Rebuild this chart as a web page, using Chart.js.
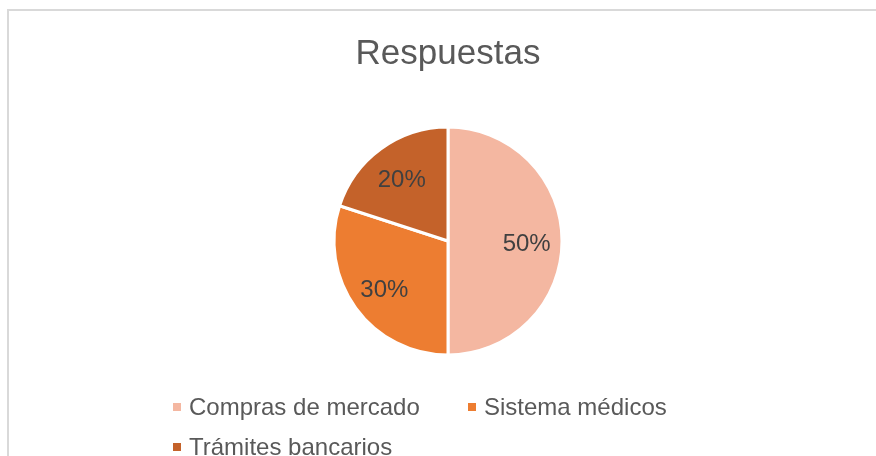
<!DOCTYPE html>
<html lang="es">
<head>
<meta charset="utf-8">
<title>Respuestas</title>
<script src="https://cdn.jsdelivr.net/npm/chart.js@4.4.1/dist/chart.umd.min.js"></script>
<style>
    html, body { margin: 0; padding: 0; background: #fff; overflow: hidden; }
    #wrap { position: relative; width: 876px; height: 456px; overflow: hidden; }
    #frame {
        position: absolute; left: 7px; top: 9px; width: 1000px; height: 600px;
        border-left: 2px solid #d9d9d9; border-top: 2px solid #d9d9d9;
    }
    #pie { position: absolute; left: 0; top: 0; }
    #legend {
        position: absolute; left: 173px; top: 387px;
        display: grid; grid-template-columns: 295px auto;
        font: 24px "Liberation Sans", Arial, sans-serif; color: #595959;
        line-height: 40px;
    }
    .item { display: flex; align-items: center; white-space: nowrap; }
    .box { width: 8px; height: 8px; margin-right: 8px; }
</style>
</head>
<body>
<div id="wrap">
    <div id="frame"></div>
    <canvas id="pie" width="876" height="456"></canvas>
    <div id="legend"></div>
</div>
<script>
"use strict";

// Data
const categories = ['Compras de mercado', 'Sistema médicos', 'Trámites bancarios'];
const shares = [50, 30, 20];
const sliceColors = ['#F4B7A1', '#ED7D31', '#C4622A'];

const FONT = '"Liberation Sans", Arial, sans-serif';

// Percent labels inside each slice (Excel style)
const pctLabels = {
    id: 'pctLabels',
    afterDatasetsDraw(chart) {
        const ctx = chart.ctx;
        const meta = chart.getDatasetMeta(0);
        const total = shares.reduce((a, b) => a + b, 0);
        ctx.save();
        ctx.font = '24px ' + FONT;
        ctx.fillStyle = '#404040';
        ctx.textAlign = 'center';
        ctx.textBaseline = 'middle';
        meta.data.forEach((arc, i) => {
            const p = arc.getProps(['x', 'y', 'startAngle', 'endAngle', 'outerRadius']);
            const mid = (p.startAngle + p.endAngle) / 2;
            const r = p.outerRadius * 0.69;
            const txt = Math.round(shares[i] / total * 100) + '%';
            ctx.fillText(txt, p.x + Math.cos(mid) * r, p.y + Math.sin(mid) * r + 3);
        });
        ctx.restore();
    }
};

const ctx = document.getElementById('pie').getContext('2d');
const chart = new Chart(ctx, {
    type: 'pie',
    data: {
        labels: categories,
        datasets: [{
            data: shares,
            backgroundColor: sliceColors,
            borderColor: '#ffffff',
            borderWidth: 3,
            hoverOffset: 0
        }]
    },
    options: {
        responsive: false,
        animation: false,
        radius: 114,
        layout: { padding: { left: 20, right: 0, top: 0, bottom: 49 } },
        plugins: {
            legend: { display: false },
            tooltip: { enabled: false },
            title: {
                display: true,
                text: 'Respuestas',
                color: '#595959',
                font: { family: FONT, size: 35, weight: 'normal', lineHeight: 1.2 },
                padding: { top: 33, bottom: 0 }
            }
        }
    },
    plugins: [pctLabels]
});

// Legend (left-aligned rows like the original)
const legendEl = document.getElementById('legend');
categories.forEach((name, i) => {
    const item = document.createElement('div');
    item.className = 'item';
    item.innerHTML = '<span class="box" style="background:' + sliceColors[i] + '"></span>' + name;
    legendEl.appendChild(item);
});
</script>
</body>
</html>
